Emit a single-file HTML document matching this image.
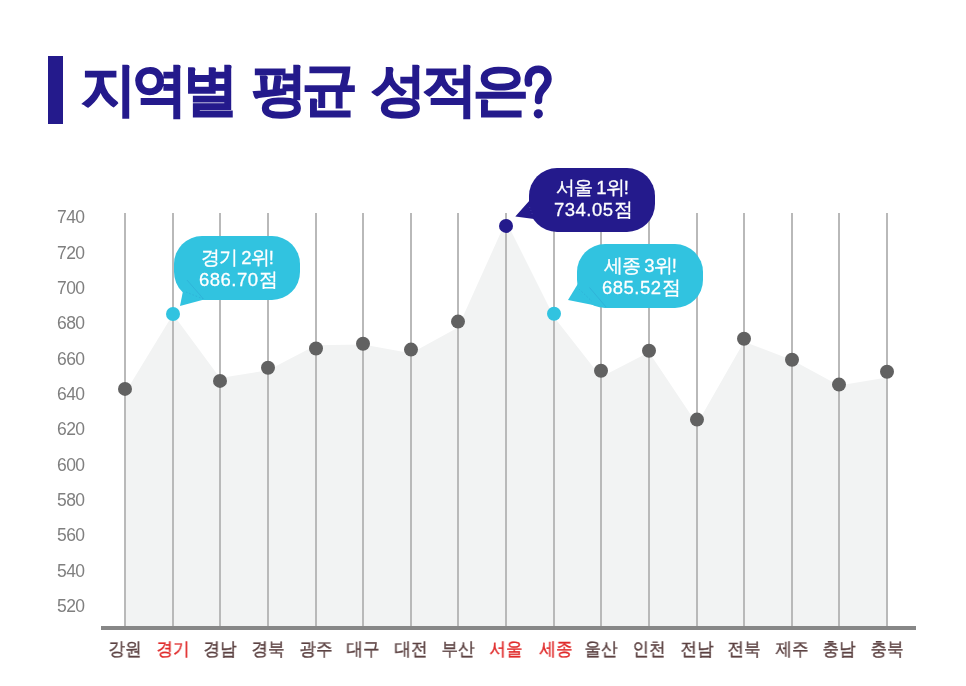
<!DOCTYPE html>
<html><head><meta charset="utf-8"><style>
html,body{margin:0;padding:0;background:#fff;}
body{width:966px;height:686px;position:relative;overflow:hidden;font-family:"Liberation Sans",sans-serif;}
.bar{position:absolute;left:48px;top:56px;width:15px;height:68px;background:#241a8c;}
.title{position:absolute;left:81px;top:52px;font-size:52px;font-weight:bold;color:#241a8c;white-space:nowrap;line-height:80px;-webkit-text-stroke:1.2px #241a8c;letter-spacing:-4.5px;word-spacing:7px;transform:scale(1.07,1.1);transform-origin:0 66px;}
svg{position:absolute;left:0;top:0;}
.yl,.xl,.bub,.title{will-change:transform;}
.yl{position:absolute;left:57px;font-size:17.5px;line-height:20px;color:#7f7f7f;letter-spacing:-0.6px;}
.xl{position:absolute;top:637px;width:60px;text-align:center;transform:scaleX(0.92);font-size:17.5px;line-height:24px;color:#5c4242;-webkit-text-stroke:0.4px #5c4242;}
.xl.red{-webkit-text-stroke:0.4px #e02b2b;}
.xl.red{color:#e02b2b;}
.bub{position:absolute;border-radius:28px;display:flex;align-items:center;justify-content:center;text-align:center;color:#fff;font-size:18.5px;line-height:22px;-webkit-text-stroke:0.3px #fff;}
.bub>span{position:relative;}
.l1{letter-spacing:-1px;}
.l2{letter-spacing:0.5px;position:relative;left:1.5px;}
</style></head><body>
<div class="bar"></div>
<div class="title">지역별 평균 성적은</div>
<svg width="966" height="686" viewBox="0 0 966 686">
<polygon points="125.00,626 125.00,392.90 173.00,314.30 220.00,378.00 268.00,370.20 316.00,345.30 363.00,344.60 411.00,353.30 458.00,327.50 506.00,221.00 554.00,317.00 601.00,377.00 649.00,352.20 697.00,423.90 744.00,341.70 792.00,360.10 839.00,385.50 887.00,377.50 887.00,626" fill="#f2f3f3"/>
<rect x="124.00" y="213" width="2" height="413" fill="#b9b9b9"/><rect x="172.00" y="213" width="2" height="413" fill="#b9b9b9"/><rect x="219.00" y="213" width="2" height="413" fill="#b9b9b9"/><rect x="267.00" y="213" width="2" height="413" fill="#b9b9b9"/><rect x="315.00" y="213" width="2" height="413" fill="#b9b9b9"/><rect x="362.00" y="213" width="2" height="413" fill="#b9b9b9"/><rect x="410.00" y="213" width="2" height="413" fill="#b9b9b9"/><rect x="457.00" y="213" width="2" height="413" fill="#b9b9b9"/><rect x="505.00" y="213" width="2" height="413" fill="#b9b9b9"/><rect x="553.00" y="213" width="2" height="413" fill="#b9b9b9"/><rect x="600.00" y="213" width="2" height="413" fill="#b9b9b9"/><rect x="648.00" y="213" width="2" height="413" fill="#b9b9b9"/><rect x="696.00" y="213" width="2" height="413" fill="#b9b9b9"/><rect x="743.00" y="213" width="2" height="413" fill="#b9b9b9"/><rect x="791.00" y="213" width="2" height="413" fill="#b9b9b9"/><rect x="838.00" y="213" width="2" height="413" fill="#b9b9b9"/><rect x="886.00" y="213" width="2" height="413" fill="#b9b9b9"/>
<rect x="101" y="626" width="815" height="4" fill="#878787"/>
<polygon points="184,286 180,306 206,299" fill="#31c3e0"/><polygon points="530,200 515.3,216.6 536,219.2 545,222" fill="#241a8c"/><polygon points="579,282 568,300 608,308" fill="#31c3e0"/>
<circle cx="125.00" cy="388.90" r="7" fill="#616161"/><circle cx="173.00" cy="314.00" r="7" fill="#31c3e0"/><circle cx="220.00" cy="380.90" r="7" fill="#616161"/><circle cx="268.00" cy="367.80" r="7" fill="#616161"/><circle cx="316.00" cy="348.50" r="7" fill="#616161"/><circle cx="363.00" cy="343.80" r="7" fill="#616161"/><circle cx="411.00" cy="349.60" r="7" fill="#616161"/><circle cx="458.00" cy="321.60" r="7" fill="#616161"/><circle cx="506.00" cy="225.90" r="7" fill="#241a8c"/><circle cx="554.00" cy="313.80" r="7" fill="#31c3e0"/><circle cx="601.00" cy="370.70" r="7" fill="#616161"/><circle cx="649.00" cy="350.80" r="7" fill="#616161"/><circle cx="697.00" cy="419.60" r="7" fill="#616161"/><circle cx="744.00" cy="338.80" r="7" fill="#616161"/><circle cx="792.00" cy="359.80" r="7" fill="#616161"/><circle cx="839.00" cy="384.60" r="7" fill="#616161"/><circle cx="887.00" cy="371.70" r="7" fill="#616161"/>
<path d="M528.5,83 C527,74 532,69.3 538.5,69.3 C544,69.3 548,73.5 548,79 C548,85 543,88 540.5,92 C538.5,95 538.5,97 538.5,100.5" fill="none" stroke="#241a8c" stroke-width="7.5" stroke-linecap="round"/><circle cx="538.3" cy="113.8" r="4.6" fill="#241a8c"/>
</svg>
<div class="yl" style="top:207.2px">740</div><div class="yl" style="top:242.6px">720</div><div class="yl" style="top:277.9px">700</div><div class="yl" style="top:313.3px">680</div><div class="yl" style="top:348.6px">660</div><div class="yl" style="top:384.0px">640</div><div class="yl" style="top:419.4px">620</div><div class="yl" style="top:454.7px">600</div><div class="yl" style="top:490.1px">580</div><div class="yl" style="top:525.4px">560</div><div class="yl" style="top:560.8px">540</div><div class="yl" style="top:596.2px">520</div>
<div class="xl" style="left:95.00px">강원</div><div class="xl red" style="left:143.00px">경기</div><div class="xl" style="left:190.00px">경남</div><div class="xl" style="left:238.00px">경북</div><div class="xl" style="left:286.00px">광주</div><div class="xl" style="left:333.00px">대구</div><div class="xl" style="left:381.00px">대전</div><div class="xl" style="left:428.00px">부산</div><div class="xl red" style="left:476.00px">서울</div><div class="xl red" style="left:525.50px">세종</div><div class="xl" style="left:571.00px">울산</div><div class="xl" style="left:619.00px">인천</div><div class="xl" style="left:667.00px">전남</div><div class="xl" style="left:714.00px">전북</div><div class="xl" style="left:762.00px">제주</div><div class="xl" style="left:809.00px">충남</div><div class="xl" style="left:857.00px">충북</div>
<div class="bub" style="left:174px;top:236px;width:126px;height:64px;background:#31c3e0"><span style="top:1px"><span class=l1>경기 2위!</span><br><span class=l2>686.70점</span></span></div><div class="bub" style="left:529px;top:168px;width:126px;height:64px;background:#241a8c"><span style="top:-1px"><span class=l1>서울 1위!</span><br><span class=l2>734.05점</span></span></div><div class="bub" style="left:577px;top:244px;width:126px;height:64px;background:#31c3e0"><span style="top:1px"><span class=l1>세종 3위!</span><br><span class=l2>685.52점</span></span></div>
<svg width="966" height="686"><g stroke="#2a5fb8" stroke-opacity="0.22" stroke-width="0.7" fill="none"><path d="M187,280 L203.5,299"/><path d="M589.5,287.5 L606,307"/><path d="M579,289 L592,301.5" stroke-dasharray="1.5 2"/><path d="M186,292 L203,299" stroke-dasharray="1.5 2"/></g><path d="M529.5,207 L533,216" stroke="#7f7fd0" stroke-opacity="0.4" stroke-width="0.7" stroke-dasharray="1.2 2"/></svg>
</body></html>
